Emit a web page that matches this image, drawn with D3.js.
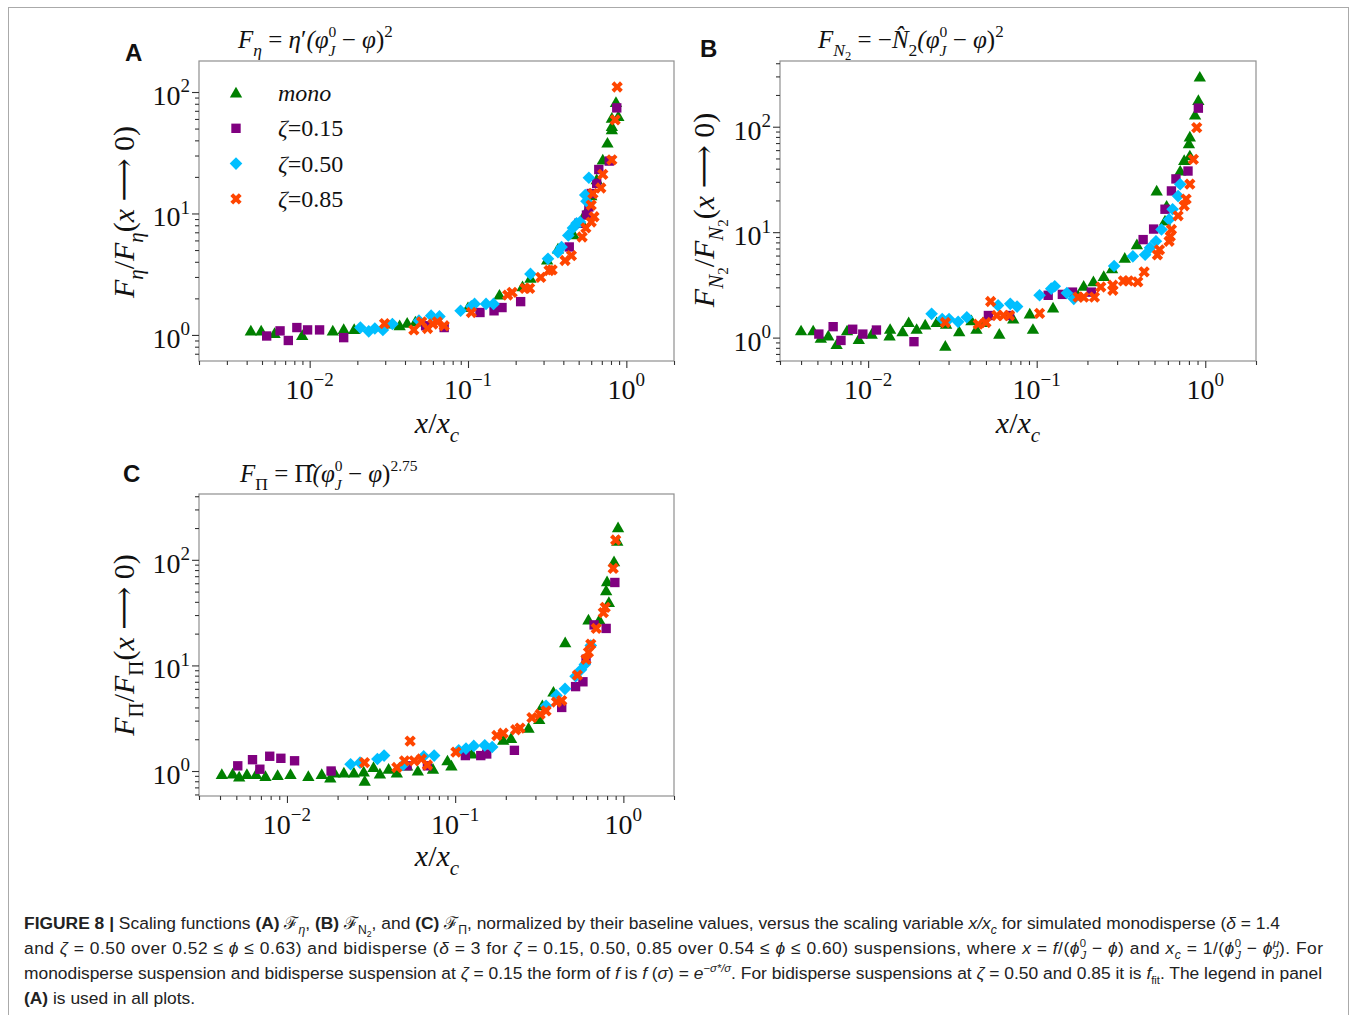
<!DOCTYPE html>
<html><head><meta charset="utf-8">
<script src="https://cdn.jsdelivr.net/npm/d3@7"></script>
<style>body{margin:0;background:#fff}svg{display:block}</style>
</head><body>
<svg id="fig" width="1356" height="1015"></svg>
<script>
// ---------------- data ----------------
const seriesNames = ["mono", "ζ=0.15", "ζ=0.50", "ζ=0.85"];
const seriesColors = ["#008000", "#800080", "#00bfff", "#ff4500"];
const xTickValues = [0.01, 0.1, 1];
const xTickExp = ["−2", "−1", "0"];
const yTickValues = [1, 10, 100];
const yTickExp = ["0", "1", "2"];

const aMono = [[0.00425,1.08],[0.00494,1.08],[0.006,1.03],[0.00897,0.99],[0.014,1.08],[0.0164,1.11],[0.0191,1.11],[0.0333,1.23],[0.037,1.19],[0.0413,1.25],[0.0465,1.28],[0.1,1.68],[0.158,2.13],[0.221,2.5],[0.248,2.93],[0.316,4.15],[0.37,5.1],[0.465,6.7],[0.52,8.5],[0.55,10],[0.6,14],[0.65,19],[0.71,27.6],[0.76,38],[0.81,49],[0.81,52],[0.81,61],[0.86,82],[0.89,63]];
const aP15 = [[0.00535,0.98],[0.0065,1.08],[0.00733,0.9],[0.0083,1.15],[0.0097,1.1],[0.01155,1.1],[0.0164,0.95],[0.054,1.19],[0.0707,1.15],[0.119,1.53],[0.146,1.58],[0.164,1.68],[0.215,1.88],[0.436,5.3],[0.5,8.3],[0.56,9.7],[0.58,11.3],[0.6,14.6],[0.65,17.7],[0.67,23],[0.78,27],[0.87,74]];
const aP50 = [[0.0209,1.15],[0.0236,1.07],[0.0258,1.13],[0.029,1.1],[0.0333,1.23],[0.049,1.31],[0.0585,1.44],[0.066,1.42],[0.0898,1.58],[0.105,1.72],[0.11,1.8],[0.13,1.8],[0.145,1.8],[0.248,3.18],[0.32,4.24],[0.37,4.8],[0.39,5.3],[0.43,6.6],[0.46,7.6],[0.485,8.3],[0.51,8.5],[0.55,14.2],[0.56,12.6],[0.58,19.7]];
const aP85 = [[0.0297,1.24],[0.0455,1.1],[0.051,1.28],[0.0555,1.13],[0.06,1.23],[0.064,1.28],[0.0707,1.19],[0.105,1.53],[0.178,2.13],[0.19,2.24],[0.229,2.42],[0.245,2.42],[0.288,2.98],[0.325,3.39],[0.34,3.43],[0.41,4.1],[0.45,4.5],[0.526,6.4],[0.555,7.6],[0.6,8.5],[0.625,9.4],[0.6,11.7],[0.615,14.6],[0.69,16.2],[0.71,21],[0.81,27.6],[0.85,59],[0.875,110]];

const bMono = [[0.004,1.16],[0.00472,1.16],[0.00524,0.985],[0.0058,1.04],[0.0065,0.86],[0.0075,1.16],[0.0088,0.96],[0.0105,1.08],[0.0134,1.04],[0.0135,1.2],[0.016,1.14],[0.0174,1.39],[0.0194,1.2],[0.0218,1.32],[0.0255,1.39],[0.0287,0.83],[0.029,1.34],[0.0347,1.14],[0.041,1.45],[0.0439,1.2],[0.048,1.39],[0.06,1.08],[0.0726,1.5],[0.091,1.68],[0.095,1.2],[0.125,1.91],[0.176,2.5],[0.19,3.07],[0.217,3.4],[0.25,3.8],[0.28,4.5],[0.333,5.66],[0.393,7.6],[0.515,24.6],[0.577,12.8],[0.59,17.7],[0.71,38],[0.75,48],[0.8,69],[0.81,53],[0.81,80],[0.87,129],[0.91,178],[0.928,296]];
const bP15 = [[0.0051,1.08],[0.0062,1.27],[0.0069,0.94],[0.0081,1.2],[0.0093,1.08],[0.0112,1.18],[0.0187,0.915],[0.0517,1.62],[0.069,1.62],[0.117,2.52],[0.142,2.57],[0.163,2.7],[0.211,2.7],[0.428,8.5],[0.494,10.7],[0.577,16.5],[0.63,24.6],[0.67,32],[0.79,38],[0.91,150]];
const bP50 = [[0.0238,1.68],[0.0275,1.5],[0.0302,1.5],[0.0342,1.41],[0.0385,1.56],[0.059,2.02],[0.0697,2.09],[0.0765,1.97],[0.104,2.52],[0.122,2.91],[0.128,3.07],[0.151,2.65],[0.166,2.33],[0.288,4.78],[0.372,5.9],[0.44,6.1],[0.47,7.1],[0.51,8.2],[0.55,10.6],[0.61,13.2],[0.64,16.5],[0.69,22],[0.71,28.5]];
const bP85 = [[0.0287,1.39],[0.045,1.34],[0.05,1.39],[0.0533,2.2],[0.058,1.62],[0.0635,1.62],[0.069,1.62],[0.104,1.7],[0.176,2.42],[0.19,2.42],[0.22,2.42],[0.24,3.02],[0.283,2.81],[0.283,3.14],[0.327,3.45],[0.35,3.45],[0.398,3.38],[0.434,4.2],[0.52,6.1],[0.535,6.8],[0.61,8.2],[0.62,9.1],[0.63,10.6],[0.69,14.3],[0.75,17.8],[0.77,20.6],[0.81,28.5],[0.85,49],[0.89,98]];

const cMono = [[0.0041,0.93],[0.00476,0.94],[0.0052,0.88],[0.00578,0.93],[0.00656,0.93],[0.00745,0.89],[0.0088,0.91],[0.0105,0.93],[0.0134,0.89],[0.0161,0.93],[0.0181,0.86],[0.0192,0.96],[0.0218,0.96],[0.025,0.96],[0.0286,0.98],[0.029,0.8],[0.0327,1.08],[0.0357,0.94],[0.0402,1.04],[0.045,0.96],[0.0518,1.12],[0.06,1.0],[0.0738,1.04],[0.09,1.25],[0.095,1.12],[0.126,1.45],[0.193,1.96],[0.215,2.04],[0.273,2.55],[0.316,3.08],[0.33,4.15],[0.384,5.6],[0.451,16.4],[0.62,27],[0.72,27],[0.79,51],[0.8,62],[0.82,39.5],[0.88,96],[0.92,150],[0.93,202]];
const cP15 = [[0.0051,1.12],[0.00624,1.28],[0.0069,1.04],[0.0079,1.38],[0.0092,1.32],[0.0111,1.25],[0.0183,1.0],[0.0518,1.12],[0.0684,1.12],[0.115,1.4],[0.142,1.4],[0.154,1.45],[0.225,1.57],[0.43,4.0],[0.52,6.3],[0.575,7.0],[0.6,11.4],[0.67,24.2],[0.79,22.4],[0.89,61]];
const cP50 = [[0.0239,1.16],[0.0272,1.2],[0.0345,1.3],[0.0378,1.4],[0.049,1.14],[0.065,1.38],[0.075,1.4],[0.105,1.57],[0.116,1.63],[0.129,1.73],[0.15,1.75],[0.166,1.69],[0.347,4.15],[0.4,5.2],[0.45,6.0],[0.52,7.9],[0.56,9.1],[0.59,10.2],[0.64,15.4]];
const cP85 = [[0.0289,1.2],[0.045,1.08],[0.05,1.25],[0.054,1.92],[0.057,1.25],[0.063,1.3],[0.0684,1.14],[0.101,1.51],[0.177,2.17],[0.193,2.28],[0.229,2.46],[0.243,2.55],[0.286,3.2],[0.32,3.45],[0.347,3.71],[0.4,4.5],[0.43,4.65],[0.533,8.1],[0.6,11.4],[0.62,13.3],[0.64,15.9],[0.69,22.4],[0.76,31.6],[0.78,35.4],[0.87,83],[0.9,154]];

// ---------------- helpers ----------------
const svg = d3.select("#fig");
const SERIF = "'Liberation Serif','DejaVu Serif',serif";
const SANS = "'Liberation Sans',Arial,sans-serif";

function rich(g, x, y, size, family, segs, anchor) {
  const t = g.append("text").attr("x", x).attr("y", y)
    .attr("font-size", size).attr("font-family", family)
    .attr("text-anchor", anchor || "start").attr("fill", "#111");
  let cur = 0;
  segs.forEach(s => {
    if (typeof s === "string") s = {t: s};
    const off = (s.o || 0) * size;
    const ts = t.append("tspan").text(s.t).attr("dy", off - cur);
    cur = off;
    if (s.s) ts.attr("font-size", size * s.s);
    if (s.i) ts.attr("font-style", "italic");
    if (s.b) ts.attr("font-weight", "bold");
    if (s.dx) ts.attr("dx", s.dx * size);
    if (s.f) ts.attr("font-family", s.f);
  });
  return t;
}

const xPath = (() => { // filled "X" marker
  const r = 6, h = 2;
  const pts = [[-h,-r],[h,-r],[h,-h],[r,-h],[r,h],[h,h],[h,r],[-h,r],[-h,h],[-r,h],[-r,-h],[-h,-h]];
  return "M" + pts.map(p => p.join(",")).join("L") + "Z";
})();
function marker(g, k, cx, cy) {
  const c = seriesColors[k];
  if (k === 0) return g.append("path").attr("d", d3.symbol(d3.symbolTriangle, 66)()).attr("transform", `translate(${cx},${cy + 1})`).attr("fill", c);
  if (k === 1) return g.append("path").attr("d", d3.symbol(d3.symbolSquare, 88)()).attr("transform", `translate(${cx},${cy})`).attr("fill", c);
  if (k === 2) return g.append("path").attr("d", d3.symbol(d3.symbolSquare, 80)()).attr("transform", `translate(${cx},${cy}) rotate(45)`).attr("fill", c);
  return g.append("path").attr("d", xPath).attr("transform", `translate(${cx},${cy}) rotate(45)`).attr("fill", c);
}

function minorTicks(domain) {
  const out = [];
  for (let e = -4; e <= 3; e++) for (let m = 2; m <= 9; m++) {
    const v = m * Math.pow(10, e);
    if (v >= domain[0] && v <= domain[1]) out.push(v);
  }
  return out;
}

const panels = [
  {L: 199, R: 674, T: 61, B: 361, xd: [0.002, 2], yd: [0.61, 180], series: [aMono, aP15, aP50, aP85]},
  {L: 780, R: 1256, T: 61, B: 361, xd: [0.003, 2], yd: [0.6, 420], series: [bMono, bP15, bP50, bP85]},
  {L: 199, R: 674, T: 494, B: 796, xd: [0.003, 2], yd: [0.58, 420], series: [cMono, cP15, cP50, cP85]}
];

panels.forEach(p => {
  const x = d3.scaleLog().domain(p.xd).range([p.L, p.R]);
  const y = d3.scaleLog().domain(p.yd).range([p.B, p.T]);
  const g = svg.append("g");
  g.append("rect").attr("x", p.L).attr("y", p.T).attr("width", p.R - p.L).attr("height", p.B - p.T)
    .attr("fill", "none").attr("stroke", "#8f8f8f").attr("stroke-width", 1.2);
  const axStyle = a => { a.select(".domain").remove(); a.selectAll("line").attr("stroke", "#333").attr("stroke-width", 1.1); };
  g.append("g").attr("transform", `translate(0,${p.B})`).call(d3.axisBottom(x).tickValues(xTickValues).tickSize(7).tickFormat("")).call(axStyle);
  g.append("g").attr("transform", `translate(0,${p.B})`).call(d3.axisBottom(x).tickValues(minorTicks(p.xd)).tickSize(4).tickFormat("")).call(axStyle);
  g.append("g").attr("transform", `translate(${p.L},0)`).call(d3.axisLeft(y).tickValues(yTickValues).tickSize(7).tickFormat("")).call(axStyle);
  g.append("g").attr("transform", `translate(${p.L},0)`).call(d3.axisLeft(y).tickValues(minorTicks(p.yd)).tickSize(4).tickFormat("")).call(axStyle);
  xTickValues.forEach((v, i) => rich(g, x(v), p.B + 38, 28, SERIF, ["10", {t: xTickExp[i], o: -0.45, s: 0.68}], "middle"));
  yTickValues.forEach((v, i) => rich(g, p.L - 9, y(v) + 13, 28, SERIF, ["10", {t: yTickExp[i], o: -0.45, s: 0.68}], "end"));
  p.series.forEach((arr, k) => {
    const sg = g.append("g");
    arr.forEach(d => marker(sg, k, x(d[0]), y(d[1])));
  });
});

// x labels
[[437, 433], [1018, 433], [437, 866]].forEach(pos =>
  rich(svg, pos[0], pos[1], 30, SERIF, [{t: "x", i: true}, "/", {t: "x", i: true}, {t: "c", i: true, o: 0.3, s: 0.7}], "middle"));

// y labels
function ylabel(cx, cy, segs) {
  const g = svg.append("g").attr("transform", `translate(${cx},${cy}) rotate(-90)`);
  rich(g, 0, 0, 30, SERIF, segs, "middle");
}
ylabel(134, 212, [{t: "F", i: true}, {t: "η", i: true, o: 0.3, s: 0.7}, {t: "/", o: 0}, {t: "F", i: true}, {t: "η", i: true, o: 0.3, s: 0.7}, {t: "(", o: 0}, {t: "x", i: true}, " ⟶ 0)"]);
ylabel(714, 210, [{t: "F", i: true}, {t: "N", i: true, o: 0.3, s: 0.7}, {t: "2", o: 0.45, s: 0.5}, {t: "/", o: 0}, {t: "F", i: true}, {t: "N", i: true, o: 0.3, s: 0.7}, {t: "2", o: 0.45, s: 0.5}, {t: "(", o: 0}, {t: "x", i: true}, " ⟶ 0)"]);
ylabel(134, 645, [{t: "F", i: true}, {t: "Π", o: 0.3, s: 0.7}, {t: "/", o: 0}, {t: "F", i: true}, {t: "Π", o: 0.3, s: 0.7}, {t: "(", o: 0}, {t: "x", i: true}, " ⟶ 0)"]);

// titles
const phiJ0 = [{t: "(φ", i: true}, {t: "0", o: -0.45, s: 0.62}, {t: "J", i: true, o: 0.32, s: 0.62, dx: -0.31}, {t: " − ", o: 0}, {t: "φ", i: true}, ")"];
rich(svg, 238, 48, 25, SERIF, [{t: "F", i: true}, {t: "η", i: true, o: 0.3, s: 0.7}, {t: " = ", o: 0}, {t: "η", i: true}, "′", ...phiJ0, {t: "2", o: -0.45, s: 0.68}]);
rich(svg, 818, 48, 25, SERIF, [{t: "F", i: true}, {t: "N", i: true, o: 0.3, s: 0.7}, {t: "2", o: 0.48, s: 0.5}, {t: " = −", o: 0}, {t: "N̂", i: true}, {t: "2", o: 0.3, s: 0.7}, ...phiJ0, {t: "2", o: -0.45, s: 0.68}]);
rich(svg, 240, 482, 25, SERIF, [{t: "F", i: true}, {t: "Π", o: 0.3, s: 0.7}, {t: " = ", o: 0}, {t: "Π̂"}, ...phiJ0, {t: "2.75", o: -0.45, s: 0.62}]);

// panel letters
[["A", 125, 61], ["B", 700, 57], ["C", 123, 482]].forEach(l =>
  svg.append("text").attr("x", l[1]).attr("y", l[2]).text(l[0]).attr("font-family", SANS).attr("font-weight", "bold").attr("font-size", 24).attr("fill", "#111"));

// legend (panel A)
seriesNames.forEach((n, k) => {
  const cy = 93 + k * 35.3;
  marker(svg, k, 236, cy);
  if (k === 0) rich(svg, 278, cy + 8, 24, SERIF, [{t: "mono", i: true}]);
  else rich(svg, 278, cy + 8, 24, SERIF, [{t: "ζ", i: true}, n.slice(1)]);
});

// outer frame
svg.append("rect").attr("x", 8.5).attr("y", 7.5).attr("width", 1340).attr("height", 1012).attr("fill", "none").attr("stroke", "#aaa");

// caption
const I = t => ({t, i: true});
const Bd = t => ({t, b: true});
const capLines = [
  {w: 1256, segs: [Bd("FIGURE 8 |"), " Scaling functions ", Bd("(A)"), " ℱ", {t: "η", i: true, o: 0.3, s: 0.7}, {t: ", ", o: 0}, Bd("(B)"), " ℱ", {t: "N", o: 0.3, s: 0.7}, {t: "2", o: 0.45, s: 0.5}, {t: ", and ", o: 0}, Bd("(C)"), " ℱ", {t: "Π", o: 0.3, s: 0.7}, {t: ", normalized by their baseline values, versus the scaling variable ", o: 0}, I("x/x"), {t: "c", i: true, o: 0.3, s: 0.7}, {t: " for simulated monodisperse (", o: 0}, I("δ"), " = 1.4"]},
  {w: 1299, segs: ["and ", I("ζ"), " = 0.50 over 0.52 ≤ ", I("ϕ"), " ≤ 0.63) and bidisperse (", I("δ"), " = 3 for ", I("ζ"), " = 0.15, 0.50, 0.85 over 0.54 ≤ ", I("ϕ"), " ≤ 0.60) suspensions, where ", I("x"), " = ", I("f"), "/(", I("ϕ"), {t: "0", o: -0.4, s: 0.65}, {t: "J", i: true, o: 0.3, s: 0.65, dx: -0.36}, {t: " − ", o: 0}, I("ϕ"), ") and ", I("x"), {t: "c", i: true, o: 0.3, s: 0.7}, {t: " = 1/(", o: 0}, I("ϕ"), {t: "0", o: -0.4, s: 0.65}, {t: "J", i: true, o: 0.3, s: 0.65, dx: -0.36}, {t: " − ", o: 0}, I("ϕ"), {t: "μ", i: true, o: -0.4, s: 0.65}, {t: "J", i: true, o: 0.3, s: 0.65, dx: -0.4}, {t: "). For", o: 0}]},
  {w: 1298, segs: ["monodisperse suspension and bidisperse suspension at ", I("ζ"), " = 0.15 the form of ", I("f"), " is ", I("f"), " (", I("σ"), ") = ", I("e"), {t: "−σ*/σ", i: true, o: -0.4, s: 0.65}, {t: ". For bidisperse suspensions at ", o: 0}, I("ζ"), " = 0.50 and 0.85 it is ", I("f"), {t: "fit", o: 0.3, s: 0.65}, {t: ". The legend in panel", o: 0}]},
  {w: 0, segs: [Bd("(A)"), " is used in all plots."]}
];
capLines.forEach((l, i) => {
  const t = rich(svg, 24, 929 + i * 25, 17.4, SANS, l.segs);
  t.attr("fill", "#222");
  if (l.w) t.attr("textLength", l.w).attr("lengthAdjust", "spacing");
});
</script>
</body></html>
